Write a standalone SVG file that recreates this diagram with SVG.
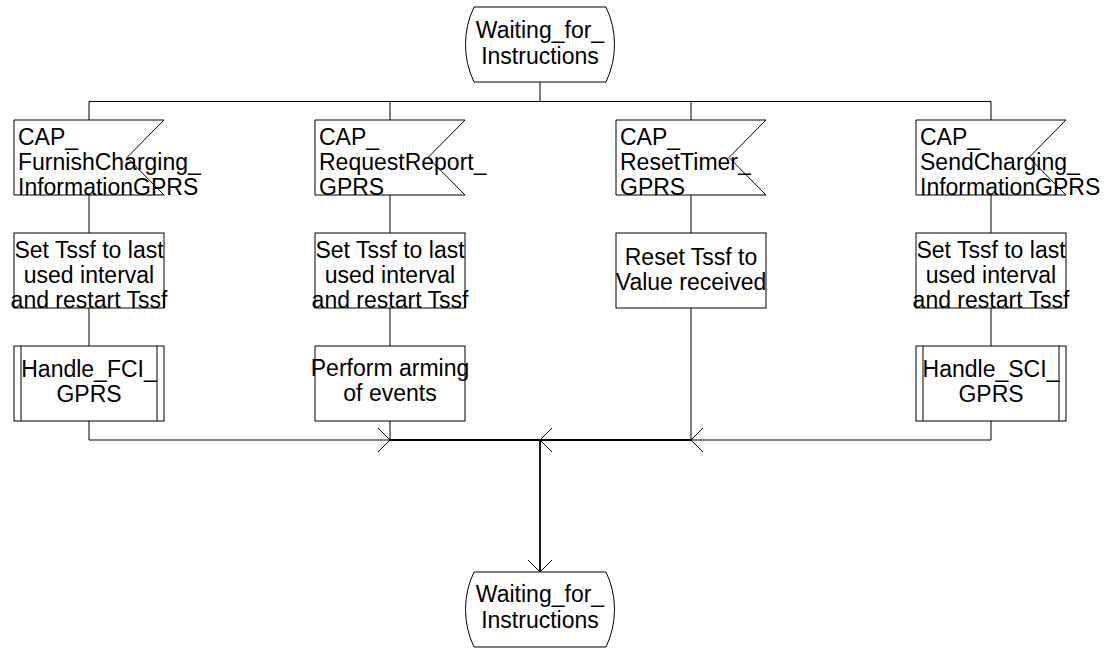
<svg xmlns="http://www.w3.org/2000/svg" width="1112" height="648" viewBox="0 0 1112 648">
<style>
.s{fill:#fff;stroke:#000;stroke-width:1}
.c{fill:none;stroke:#000;stroke-width:1}
.m{fill:none;stroke:#000;stroke-width:1.8}
text{font-family:"Liberation Sans",Arial,sans-serif;font-size:23px;fill:#000}
.ctr{text-anchor:middle}
</style>
<defs>
<marker id="arr" viewBox="-13 -13 14 26" markerWidth="14" markerHeight="26" refX="0" refY="0" orient="auto" markerUnits="userSpaceOnUse">
<path d="M-12,-12 L0,0 L-12,12" fill="none" stroke="#000" stroke-width="1"/>
</marker>
</defs>
<rect width="1112" height="648" fill="#fff"/>

<g id="connectors">
<path class="c" d="M540,82 V101.5 M89,101.5 H991 M89,101.5 V120 M390,101.5 V120 M691,101.5 V120 M991,101.5 V120"/>
<path class="c" d="M89,195 V233 M89,308 V346 M390,195 V233 M390,308 V346 M691,195 V233 M991,195 V233 M991,308 V346"/>
<path class="c" d="M89,421 V440 H390" marker-end="url(#arr)"/>
<path class="c" d="M390,421 V440"/>
<path class="c" d="M691,308 V440"/>
<path class="c" d="M991,421 V440 H691" marker-end="url(#arr)"/>
<path class="m" d="M390,440 H540"/>
<path class="m" d="M691,440 H540" marker-end="url(#arr)"/>
<path class="m" d="M540,440 V572" marker-end="url(#arr)"/>
</g>

<g id="state_top">
<path class="s" d="M474,7 H606 A87,87 0 0 1 606,82 H474 A87,87 0 0 1 474,7 Z"/>
<text class="ctr" x="540" y="38">Waiting_for_</text>
<text class="ctr" x="540" y="64">Instructions</text>
</g>

<g id="input_fci">
<path class="s" d="M14,120 H164 L127,157.5 L164,195 H14 Z"/>
<text x="18" y="145">CAP_</text>
<text x="18" y="170">FurnishCharging_</text>
<text x="18" y="195">InformationGPRS</text>
</g>
<g id="input_rr">
<path class="s" d="M315,120 H465 L428,157.5 L465,195 H315 Z"/>
<text x="319" y="145">CAP_</text>
<text x="319" y="170">RequestReport_</text>
<text x="319" y="195">GPRS</text>
</g>
<g id="input_rt">
<path class="s" d="M616,120 H766 L729,157.5 L766,195 H616 Z"/>
<text x="620" y="145">CAP_</text>
<text x="620" y="170">ResetTimer_</text>
<text x="620" y="195">GPRS</text>
</g>
<g id="input_sci">
<path class="s" d="M916,120 H1066 L1029,157.5 L1066,195 H916 Z"/>
<text x="920" y="145">CAP_</text>
<text x="920" y="170">SendCharging_</text>
<text x="920" y="195">InformationGPRS</text>
</g>

<g id="task_fci">
<rect class="s" x="14" y="233" width="150" height="75"/>
<text class="ctr" x="89" y="257.5">Set Tssf to last</text>
<text class="ctr" x="89" y="282.5">used interval</text>
<text class="ctr" x="89" y="307.5">and restart Tssf</text>
</g>
<g id="task_rr">
<rect class="s" x="315" y="233" width="150" height="75"/>
<text class="ctr" x="390" y="257.5">Set Tssf to last</text>
<text class="ctr" x="390" y="282.5">used interval</text>
<text class="ctr" x="390" y="307.5">and restart Tssf</text>
</g>
<g id="task_rt">
<rect class="s" x="616" y="233" width="150" height="75"/>
<text class="ctr" x="691" y="265">Reset Tssf to</text>
<text class="ctr" x="691" y="290">Value received</text>
</g>
<g id="task_sci">
<rect class="s" x="916" y="233" width="150" height="75"/>
<text class="ctr" x="991" y="257.5">Set Tssf to last</text>
<text class="ctr" x="991" y="282.5">used interval</text>
<text class="ctr" x="991" y="307.5">and restart Tssf</text>
</g>

<g id="proc_fci">
<rect class="s" x="14" y="346" width="150" height="75"/>
<path class="c" d="M21,346 V421 M157,346 V421"/>
<text class="ctr" x="89" y="376.5">Handle_FCI_</text>
<text class="ctr" x="89" y="401.5">GPRS</text>
</g>
<g id="task_arm">
<rect class="s" x="315" y="346" width="150" height="75"/>
<text class="ctr" x="390" y="376">Perform arming</text>
<text class="ctr" x="390" y="401">of events</text>
</g>
<g id="proc_sci">
<rect class="s" x="916" y="346" width="150" height="75"/>
<path class="c" d="M923,346 V421 M1059,346 V421"/>
<text class="ctr" x="991" y="376.5">Handle_SCI_</text>
<text class="ctr" x="991" y="401.5">GPRS</text>
</g>

<g id="state_bottom">
<path class="s" d="M474,572 H606 A87,87 0 0 1 606,647 H474 A87,87 0 0 1 474,572 Z"/>
<text class="ctr" x="540" y="602">Waiting_for_</text>
<text class="ctr" x="540" y="628">Instructions</text>
</g>
</svg>
